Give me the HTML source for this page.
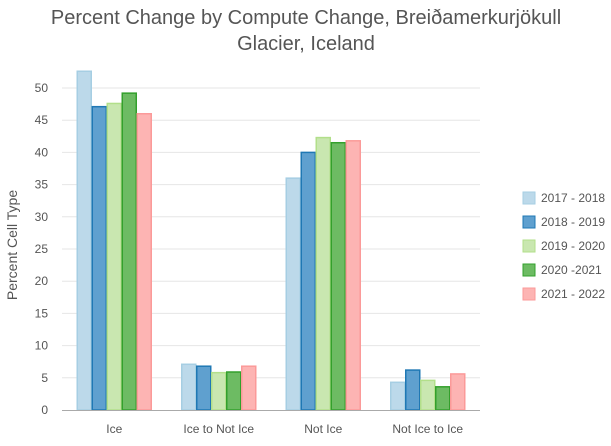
<!DOCTYPE html>
<html><head><meta charset="utf-8"><style>
body{margin:0;background:#fff;font-family:"Liberation Sans",sans-serif}
</style></head><body>
<svg width="611" height="441" xmlns="http://www.w3.org/2000/svg" font-family="Liberation Sans, sans-serif">
<text x="306" y="24" text-anchor="middle" font-size="20" fill="#555">Percent Change by Compute Change, Breiðamerkurjökull</text>
<text x="306" y="50" text-anchor="middle" font-size="20" fill="#555">Glacier, Iceland</text>
<text transform="translate(17,245) rotate(-90)" text-anchor="middle" font-size="14" fill="#555">Percent Cell Type</text>
<g id="grid"></g><g id="bars"></g><g id="axes"></g><g id="legend"></g>
</svg>
<script>
const categories=["Ice","Ice to Not Ice","Not Ice","Not Ice to Ice"];
const seriesNames=["2017 - 2018","2018 - 2019","2019 - 2020","2020 -2021","2021 - 2022"];
const s2017=[52.6,7.1,36.0,4.3];
const s2018=[47.1,6.8,40.0,6.2];
const s2019=[47.6,5.8,42.3,4.6];
const s2020=[49.2,5.9,41.5,3.6];
const s2021=[46.0,6.8,41.8,5.6];
const yTicks=[0,5,10,15,20,25,30,35,40,45,50];
const series=[s2017,s2018,s2019,s2020,s2021];
const fills=["#bcd9ea","#5fa0cf","#c9e7b0","#6dbb63","#fdb4b3"];
const strokes=["#a6cee3","#1f78b4","#b2df8a","#33a02c","#fb9a99"];
const NS="http://www.w3.org/2000/svg";
const x0=62,x1=480,y0=410,pxPerUnit=6.44;
const y=v=>y0-v*pxPerUnit;
const gw=(x1-x0)/categories.length,bw=15;
function mk(t,a,p){const e=document.createElementNS(NS,t);for(const k in a)e.setAttribute(k,a[k]);p.appendChild(e);return e;}
const grid=document.getElementById('grid'),bars=document.getElementById('bars'),axes=document.getElementById('axes'),leg=document.getElementById('legend');
yTicks.forEach(t=>{
 if(t>0){const l=mk('line',{x1:x0,x2:x1,y1:y(t),y2:y(t),stroke:'#e6e6e6'},grid);
 
 }
 const tx=mk('text',{x:48,y:y(t)+4,'text-anchor':'end','font-size':12,fill:'#555'},axes);tx.textContent=t;
 
 
});
categories.forEach((c,i)=>{
 const cx=x0+gw*(i+0.5);
 series.forEach((s,j)=>{
  const bx=cx-2.5*bw+j*bw;
  const r=mk('rect',{x:bx+0.5,y:y(s[i]),width:bw-1,height:y0-y(s[i]),fill:fills[j],stroke:strokes[j],'stroke-width':1.5},bars);
  
  
 });
 const tx=mk('text',{x:cx,y:433,'text-anchor':'middle','font-size':12,fill:'#555'},axes);tx.textContent=c;
 
 
});
const ax=mk('line',{x1:x0,x2:x1,y1:y0+0.5,y2:y0+0.5,stroke:'#aaa'},axes);


seriesNames.forEach((n,j)=>{
 const ly=198+j*24;
 const g=mk('g',{},leg);
 
 
 mk('rect',{x:523,y:ly-6,width:12,height:12,fill:fills[j],stroke:strokes[j]},g);
 const t=mk('text',{x:541,y:ly+4,'font-size':12,fill:'#555'},g);t.textContent=n;
});
</script>
</body></html>
